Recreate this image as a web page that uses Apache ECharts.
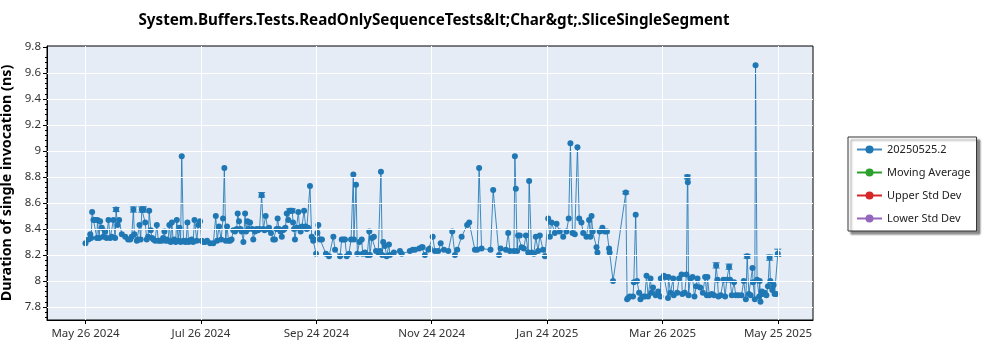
<!DOCTYPE html>
<html><head><meta charset="utf-8">
<script src="https://cdn.jsdelivr.net/npm/echarts@6/dist/echarts.min.js"></script>
<style>html,body{margin:0;padding:0;background:#fff}#c{width:1000px;height:350px}</style>
</head><body><div id="c"></div>
<script>
const chartTitle = 'System.Buffers.Tests.ReadOnlySequenceTests&lt;Char&gt;.SliceSingleSegment';
const yAxisTitle = 'Duration of single invocation (ns)';
const seriesNames = ['20250525.2', 'Moving Average', 'Upper Std Dev', 'Lower Std Dev'];
const seriesColors = ['#1f77b4', '#2ca02c', '#d62728', '#9467bd'];
// x values are days since May 26 2024
const xTickDays = [0, 60.667, 121.333, 182, 242.667, 303.333, 364];
const xTickLabels = ['May 26 2024', 'Jul 26 2024', 'Sep 24 2024', 'Nov 24 2024', 'Jan 24 2025', 'Mar 26 2025', 'May 25 2025'];
const yTickValues = [7.8, 8, 8.2, 8.4, 8.6, 8.8, 9, 9.2, 9.4, 9.6, 9.8];
const yTickLabels = ['7.8', '8', '8.2', '8.4', '8.6', '8.8', '9', '9.2', '9.4', '9.6', '9.8'];
const xRange = [-20.222, 382.4];
const yRange = [7.7, 9.808];

const runs = [[0.0,8.29],[1.6,8.32],[2.5,8.36],[3.0,8.33],[3.5,8.53],[4.2,8.47],[5.1,8.47],[6.0,8.33],[6.3,8.47],[7.2,8.33],[7.7,8.46],[8.6,8.41],[9.3,8.34],[10.3,8.38],[11.1,8.33],[12.1,8.47],[13.0,8.33],[13.8,8.34],[14.7,8.47],[15.6,8.33],[16.1,8.55],[16.8,8.43],[17.7,8.47],[19.1,8.36],[20.9,8.34],[22.4,8.32],[23.5,8.32],[24.3,8.34],[25.2,8.55],[25.7,8.36],[27.0,8.31],[27.7,8.32],[28.4,8.43],[29.0,8.32],[29.6,8.55],[30.5,8.55],[31.4,8.45],[32.2,8.32],[32.9,8.34],[33.5,8.54],[34.3,8.39],[35.0,8.33],[35.7,8.32],[36.6,8.31],[37.5,8.43],[38.3,8.31],[39.2,8.31],[40.1,8.31],[40.8,8.33],[41.5,8.38],[42.1,8.31],[42.8,8.32],[43.4,8.31],[44.1,8.43],[44.8,8.30],[45.4,8.45],[46.1,8.31],[46.6,8.32],[47.4,8.30],[48.0,8.47],[48.7,8.31],[49.4,8.41],[50.0,8.30],[50.6,8.96],[51.5,8.31],[52.4,8.30],[52.9,8.31],[53.6,8.45],[54.2,8.30],[55.0,8.31],[55.8,8.32],[56.6,8.30],[57.3,8.47],[58.5,8.31],[59.3,8.43],[60.2,8.46],[61.1,8.31],[61.8,8.30],[62.9,8.30],[63.9,8.31],[65.5,8.29],[67.2,8.29],[68.5,8.50],[69.2,8.31],[70.2,8.42],[71.3,8.32],[72.3,8.48],[73.0,8.87],[73.7,8.31],[74.4,8.42],[75.2,8.31],[76.0,8.31],[76.8,8.32],[77.7,8.39],[78.6,8.38],[79.5,8.40],[80.0,8.52],[80.7,8.46],[81.5,8.40],[82.1,8.38],[83.0,8.30],[83.9,8.52],[84.4,8.38],[85.1,8.46],[85.7,8.40],[86.5,8.45],[87.7,8.40],[88.2,8.32],[89.1,8.38],[90.0,8.40],[90.7,8.39],[91.5,8.40],[92.6,8.66],[93.5,8.40],[94.1,8.39],[94.7,8.50],[95.8,8.40],[96.5,8.41],[97.5,8.37],[98.7,8.32],[99.6,8.32],[100.4,8.40],[101.0,8.48],[101.7,8.40],[102.5,8.38],[103.2,8.34],[103.8,8.39],[104.5,8.40],[105.1,8.41],[105.8,8.52],[106.6,8.47],[107.3,8.54],[107.9,8.54],[108.7,8.54],[109.1,8.45],[109.6,8.40],[110.1,8.32],[110.9,8.41],[111.9,8.53],[112.5,8.41],[113.1,8.38],[113.8,8.42],[114.9,8.54],[115.7,8.42],[116.3,8.40],[117.0,8.41],[118.0,8.73],[118.9,8.34],[119.7,8.31],[120.1,8.32],[121.2,8.21],[121.9,8.37],[122.4,8.43],[123.3,8.32],[124.3,8.32],[126.4,8.21],[128.0,8.19],[130.3,8.34],[131.2,8.24],[133.8,8.19],[134.7,8.32],[135.6,8.32],[136.4,8.32],[137.3,8.19],[138.5,8.21],[139.6,8.32],[140.8,8.82],[141.1,8.32],[142.2,8.74],[142.9,8.21],[144.0,8.30],[145.2,8.32],[145.7,8.21],[146.9,8.22],[148.1,8.20],[149.2,8.38],[149.5,8.20],[150.6,8.33],[151.6,8.34],[152.7,8.23],[153.9,8.22],[154.8,8.23],[155.3,8.84],[156.0,8.20],[156.5,8.30],[157.4,8.27],[158.3,8.19],[159.5,8.28],[160.0,8.20],[162.1,8.22],[165.3,8.23],[166.2,8.21],[170.5,8.23],[172.0,8.24],[173.2,8.24],[175.4,8.25],[176.7,8.26],[177.2,8.26],[178.4,8.20],[180.2,8.24],[181.0,8.25],[182.5,8.34],[183.7,8.23],[185.4,8.23],[186.7,8.29],[188.4,8.24],[190.7,8.23],[192.8,8.38],[194.2,8.20],[195.4,8.24],[197.7,8.34],[200.6,8.43],[201.7,8.45],[204.7,8.24],[205.9,8.24],[206.9,8.87],[208.2,8.25],[212.9,8.24],[214.3,8.70],[217.4,8.20],[218.2,8.25],[221.0,8.24],[222.2,8.37],[223.1,8.23],[225.2,8.23],[225.7,8.96],[226.2,8.71],[226.9,8.23],[227.4,8.35],[228.3,8.35],[229.2,8.26],[230.4,8.25],[231.5,8.35],[232.7,8.22],[233.2,8.77],[234.5,8.22],[235.7,8.21],[236.7,8.34],[237.9,8.23],[238.8,8.35],[240.5,8.24],[241.5,8.19],[243.2,8.48],[244.1,8.34],[245.0,8.45],[246.7,8.37],[247.6,8.44],[249.3,8.38],[251.1,8.34],[252.8,8.38],[254.0,8.48],[254.9,9.06],[256.0,8.37],[257.2,8.36],[258.6,9.03],[259.5,8.48],[260.7,8.45],[261.6,8.37],[263.3,8.34],[264.7,8.47],[265.4,8.34],[266.0,8.50],[266.6,8.38],[268.6,8.26],[269.1,8.22],[270.3,8.38],[271.7,8.41],[272.9,8.38],[274.1,8.38],[275.2,8.25],[275.5,8.22],[277.3,8.00],[284.0,8.68],[284.7,7.86],[285.2,7.87],[286.1,7.88],[287.8,7.88],[288.2,7.99],[289.2,8.51],[289.9,8.00],[291.0,7.91],[291.7,7.86],[292.9,7.88],[294.0,7.88],[294.9,8.04],[295.7,7.88],[297.0,8.02],[297.5,7.91],[298.3,7.95],[299.7,7.89],[301.0,7.92],[302.2,7.88],[302.4,8.02],[304.0,8.04],[305.0,8.03],[306.2,7.87],[306.4,8.03],[307.5,7.91],[308.9,8.02],[309.2,7.89],[311.0,7.91],[312.0,8.02],[313.3,8.05],[313.7,7.90],[315.0,7.91],[315.9,8.05],[316.4,8.80],[316.6,8.76],[317.0,7.89],[317.9,8.02],[319.1,8.03],[320.1,7.88],[321.0,7.96],[321.7,8.02],[323.1,7.95],[324.5,7.91],[325.7,8.03],[326.6,7.89],[326.9,8.03],[327.9,7.89],[329.2,7.90],[330.4,7.89],[331.5,8.12],[332.2,8.01],[332.7,7.88],[333.9,7.89],[335.3,8.01],[336.2,7.88],[337.1,8.01],[338.3,8.11],[338.8,8.01],[339.7,7.89],[340.9,7.99],[341.8,7.89],[343.1,7.89],[344.8,7.89],[346.0,8.00],[347.1,7.86],[347.8,8.19],[348.7,7.90],[349.6,7.89],[350.6,8.10],[350.9,7.99],[351.8,7.86],[352.2,9.66],[353.0,8.01],[354.1,7.88],[354.4,8.00],[354.8,7.84],[355.5,7.92],[356.1,7.90],[357.0,7.91],[357.9,7.89],[358.7,7.96],[359.6,8.18],[360.0,8.00],[361.0,7.93],[361.7,7.97],[362.2,7.90],[363.1,7.90],[363.9,8.21]];

// [day, low, high]
const errorBars = [[16.1,8.535,8.565],[25.2,8.53,8.57],[29.6,8.53,8.57],[30.5,8.53,8.57],[92.6,8.645,8.68],[107.3,8.525,8.555],[108.7,8.525,8.555],[284.0,8.67,8.69],[316.4,8.785,8.815],[331.5,8.10,8.14],[338.3,8.09,8.13],[347.8,8.175,8.205],[359.6,8.16,8.20],[363.9,8.19,8.245]];

const yMinorTicks = [];
for (let i = 0; i <= 50; i++) { const v = Math.round((7.72 + i * 0.04) * 100) / 100; if (v <= 9.8) yMinorTicks.push(v); }

const FONT = 'Noto Sans';
const chart = echarts.init(document.getElementById('c'), null, { renderer: 'canvas' });

const gridLineData = xTickDays.map(d => ({ xAxis: d })).concat(yTickValues.filter(v => v < 9.8).map(v => ({ yAxis: v })));

chart.setOption({
  animation: false,
  backgroundColor: '#fff',
  title: {
    text: chartTitle, left: 429, top: 8, textAlign: 'center',
    textStyle: { fontFamily: FONT, fontSize: 15.2, fontWeight: 'bold', color: '#000' }
  },
  grid: {
    left: 47, right: 187, top: 46, bottom: 30, containLabel: false, outerBoundsMode: 'none',
    show: true, backgroundColor: '#e5ecf6', borderColor: '#000', borderWidth: 1
  },
  legend: {
    data: seriesNames, orient: 'vertical', left: 848, top: 137,
    itemWidth: 25, itemHeight: 10, itemGap: 12,
    padding: [7, 6, 7, 8],
    backgroundColor: '#fff', borderColor: '#333', borderWidth: 1,
    shadowColor: 'rgba(0,0,0,0.45)', shadowBlur: 2, shadowOffsetX: 3, shadowOffsetY: 3,
    textStyle: { fontFamily: FONT, fontSize: 11, color: '#222' },
    selectedMode: false
  },
  xAxis: {
    type: 'value', min: xRange[0], max: xRange[1],
    axisLine: { show: true, onZero: false, lineStyle: { color: '#000', width: 1 } },
    axisTick: { show: true, customValues: xTickDays, length: 4, lineStyle: { color: '#000' } },
    axisLabel: {
      customValues: xTickDays, fontFamily: FONT, fontSize: 11.5, color: '#333', margin: 8,
      formatter: v => { const i = xTickDays.findIndex(d => Math.abs(d - v) < 0.01); return i >= 0 ? xTickLabels[i] : ''; }
    },
    splitLine: { show: false }
  },
  yAxis: [{
    type: 'value', min: yRange[0], max: yRange[1],
    name: yAxisTitle, nameLocation: 'middle', nameGap: 25,
    nameTextStyle: { fontFamily: FONT, fontSize: 14.3, fontWeight: 'bold', color: '#000' },
    axisLine: { show: true, onZero: false, lineStyle: { color: '#000', width: 1 } },
    axisTick: { show: true, customValues: yTickValues, length: 4, lineStyle: { color: '#000' } },
    axisLabel: {
      customValues: yTickValues, fontFamily: FONT, fontSize: 11.5, color: '#333', margin: 6,
      formatter: v => { const i = yTickValues.findIndex(t => Math.abs(t - v) < 1e-6); return i >= 0 ? yTickLabels[i] : ''; }
    },
    splitLine: { show: false }
  }, {
    type: 'value', min: yRange[0], max: yRange[1], position: 'left', offset: 0,
    axisLine: { show: false, onZero: false },
    axisTick: { show: true, customValues: yMinorTicks, length: 2, lineStyle: { color: '#000' } },
    axisLabel: { show: false },
    splitLine: { show: false }
  }],
  series: [
    {
      name: '_grid', type: 'line', z: 1, data: [[xTickDays[0], yTickValues[0]]], symbol: 'none',
      lineStyle: { opacity: 0 }, silent: true, legendHoverLink: false,
      markLine: {
        silent: true, symbol: ['none', 'none'], label: { show: false },
        lineStyle: { color: '#ffffff', width: 1, type: 'solid' }, emphasis: { disabled: true },
        data: gridLineData
      }
    },
    {
      name: seriesNames[0], type: 'line', z: 3, data: runs,
      symbol: 'circle', symbolSize: 6, showAllSymbol: true,
      itemStyle: { color: seriesColors[0] },
      lineStyle: { color: seriesColors[0], width: 1, opacity: 0.85 },
      emphasis: { disabled: true }
    },
    {
      name: '_err', type: 'custom', z: 4, data: errorBars, silent: true,
      renderItem: (params, api) => {
        const x = api.value(0);
        const lo = api.coord([x, api.value(1)]);
        const hi = api.coord([x, api.value(2)]);
        const w = 3.5;
        const st = { stroke: seriesColors[0], lineWidth: 1 };
        return { type: 'group', children: [
          { type: 'line', shape: { x1: lo[0], y1: lo[1], x2: hi[0], y2: hi[1] }, style: st },
          { type: 'line', shape: { x1: lo[0] - w, y1: lo[1], x2: lo[0] + w, y2: lo[1] }, style: st },
          { type: 'line', shape: { x1: hi[0] - w, y1: hi[1], x2: hi[0] + w, y2: hi[1] }, style: st }
        ] };
      }
    },
    { name: seriesNames[1], type: 'line', data: [], symbol: 'circle', symbolSize: 6, itemStyle: { color: seriesColors[1] }, lineStyle: { color: seriesColors[1], width: 1 } },
    { name: seriesNames[2], type: 'line', data: [], symbol: 'circle', symbolSize: 6, itemStyle: { color: seriesColors[2] }, lineStyle: { color: seriesColors[2], width: 1 } },
    { name: seriesNames[3], type: 'line', data: [], symbol: 'circle', symbolSize: 6, itemStyle: { color: seriesColors[3] }, lineStyle: { color: seriesColors[3], width: 1 } }
  ]
});
</script>
</body></html>
